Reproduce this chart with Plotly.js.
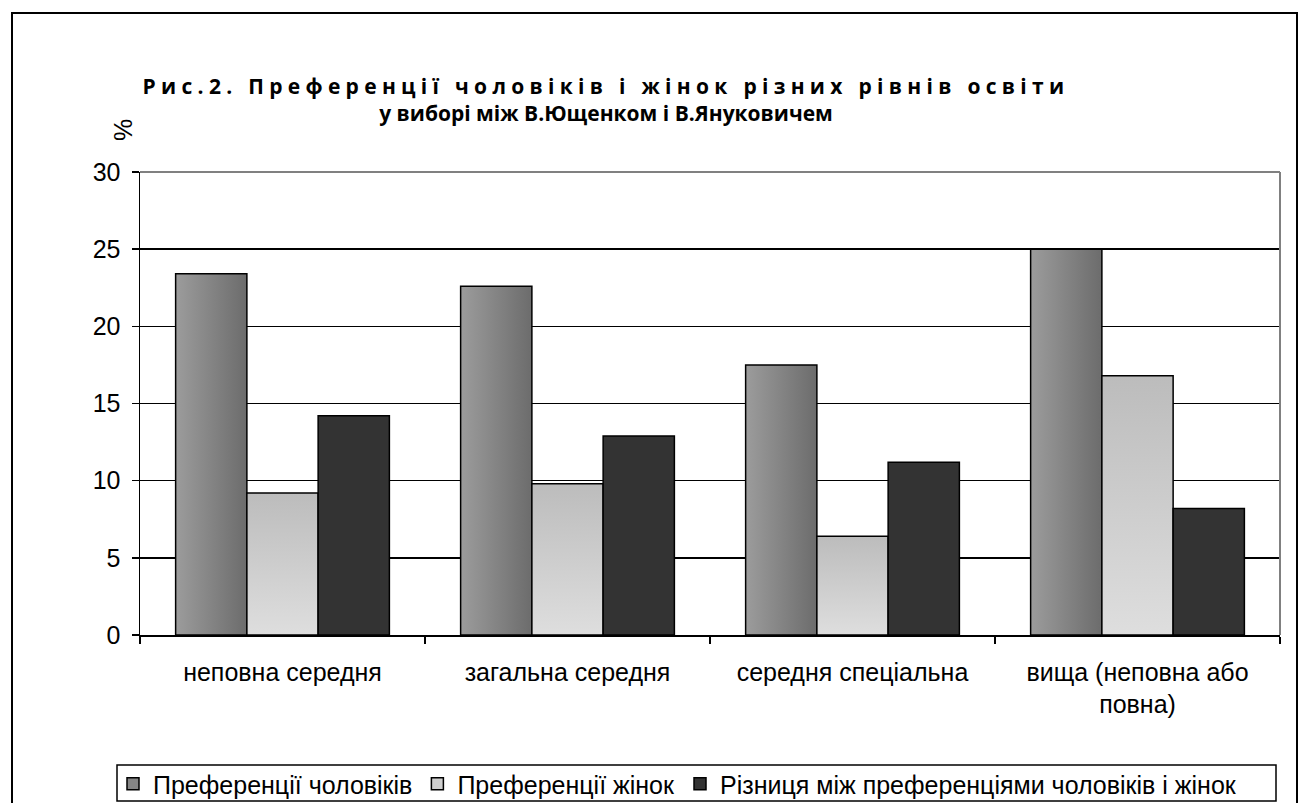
<!DOCTYPE html>
<html>
<head>
<meta charset="utf-8">
<script src="https://cdn.plot.ly/plotly-3.0.1.min.js"></script>
<style>
body{margin:0;padding:0;background:#fff;}
#chart{width:1305px;height:803px;}
.gtitle .line:first-child{letter-spacing:5.3px;}
.gtitle .line:nth-child(2){letter-spacing:0px;}
</style>
</head>
<body>
<div id="chart"></div>
<script>
var categories = ['неповна середня', 'загальна середня', 'середня спеціальна', 'вища (неповна або<br>повна)'];
var seriesNames = ['Преференції чоловіків', 'Преференції жінок', 'Різниця між преференціями чоловіків і жінок'];
var menValues = [23.4, 22.6, 17.5, 25.0];
var womenValues = [9.2, 9.8, 6.4, 16.8];
var diffValues = [14.2, 12.9, 11.2, 8.2];
var yTicks = [0, 5, 10, 15, 20, 25, 30];
var titleText = 'Рис.2. Преференції чоловіків і жінок різних рівнів освіти<br>у виборі між В.Ющенком і В.Януковичем';

var font = 'Arial, "Liberation Sans", sans-serif';
var line = {color: '#000', width: 1.5};
var traces = [
  {type: 'bar', name: seriesNames[0], x: categories, y: menValues, marker: {color: '#858585', line: line}},
  {type: 'bar', name: seriesNames[1], x: categories, y: womenValues, marker: {color: '#cfcfcf', line: line}},
  {type: 'bar', name: seriesNames[2], x: categories, y: diffValues, marker: {color: '#333333', line: line}}
];

var L = 140, R = 25, T = 172, B = 168, W = 1305, H = 803;
var pw = W - L - R, ph = H - T - B;
function px(x){return (x - L) / pw;}
function py(y){return (H - B - y) / ph;}

var layout = {
  width: W, height: H,
  margin: {l: L, r: R, t: T, b: B, pad: 0, autoexpand: false},
  paper_bgcolor: '#fff', plot_bgcolor: '#fff',
  barmode: 'group', bargap: 0.25, bargroupgap: 0,
  showlegend: true,
  title: {text: titleText, font: {family: '"Open Sans", sans-serif', size: 21, color: '#000', weight: 'bold'},
          xref: 'container', x: 606 / W, xanchor: 'center', yref: 'container', y: 1 - 94 / H, yanchor: 'top'},
  font: {family: font, color: '#000', size: 25},
  xaxis: {
    type: 'category', tickson: 'boundaries', ticks: 'outside', ticklen: 7, tickcolor: '#000', tickwidth: 1.5,
    showline: true, linecolor: '#000', linewidth: 1.5, showgrid: false, zeroline: false,
    tickfont: {family: font, size: 25, color: '#000'}, automargin: false, ticklabelstandoff: 14
  },
  yaxis: {
    range: [0, 30], tickvals: yTicks, ticks: 'outside', ticklen: 7, tickcolor: '#000', tickwidth: 1.5,
    showline: true, linecolor: '#000', linewidth: 1.5, showgrid: true, gridcolor: '#000', gridwidth: 1.5,
    zeroline: false, tickfont: {family: font, size: 25, color: '#000'}, automargin: false, ticklabelstandoff: 6
  },
  legend: {
    orientation: 'h', x: px(113), xanchor: 'left', y: py(761), yanchor: 'top',
    borderwidth: 0, bgcolor: 'rgba(0,0,0,0)',
    font: {family: font, size: 25, color: '#000'}, itemwidth: 30, tracegroupgap: 0
  },
  annotations: [
    {xref: 'paper', yref: 'paper', x: px(123), y: py(130), text: '%', showarrow: false, textangle: -90,
     font: {family: font, size: 25, color: '#000'}, xanchor: 'center', yanchor: 'middle'}
  ],
  shapes: [
    {type: 'rect', xref: 'paper', yref: 'paper', x0: px(12), x1: px(1297), y0: py(830), y1: py(13),
     line: {color: '#000', width: 2}, fillcolor: 'rgba(0,0,0,0)', layer: 'below'},
    {type: 'rect', xref: 'paper', yref: 'paper', x0: px(117), x1: px(1276), y0: py(801), y1: py(765),
     line: {color: '#000', width: 1.5}, fillcolor: 'rgba(0,0,0,0)', layer: 'below'},
    {type: 'line', xref: 'paper', yref: 'paper', x0: 0, x1: 1, y0: 1, y1: 1, line: {color: '#808080', width: 2}},
    {type: 'line', xref: 'paper', yref: 'paper', x0: 1, x1: 1, y0: 0, y1: 1, line: {color: '#808080', width: 2}}
  ]
};

Plotly.newPlot('chart', traces, layout, {displayModeBar: false, staticPlot: true}).then(function(gd){
  var svg = gd.querySelector('.main-svg');
  var ns = 'http://www.w3.org/2000/svg';
  var defs = document.createElementNS(ns, 'defs');
  defs.innerHTML =
    '<linearGradient id="gMen" x1="0" y1="0" x2="1" y2="0">' +
      '<stop offset="0" stop-color="#9c9c9c"/><stop offset="1" stop-color="#6c6c6c"/></linearGradient>' +
    '<linearGradient id="gWomen" x1="0" y1="0" x2="0" y2="1">' +
      '<stop offset="0" stop-color="#bcbcbc"/><stop offset="1" stop-color="#dedede"/></linearGradient>';
  svg.insertBefore(defs, svg.firstChild);
  var bars = gd.querySelectorAll('.barlayer .trace.bars');
  var fills = ['url(#gMen)', 'url(#gWomen)', null];
  bars.forEach(function(t, i){
    if (!fills[i]) return;
    t.querySelectorAll('path').forEach(function(p){ p.style.fill = fills[i]; });
  });
});
</script>
</body>
</html>
